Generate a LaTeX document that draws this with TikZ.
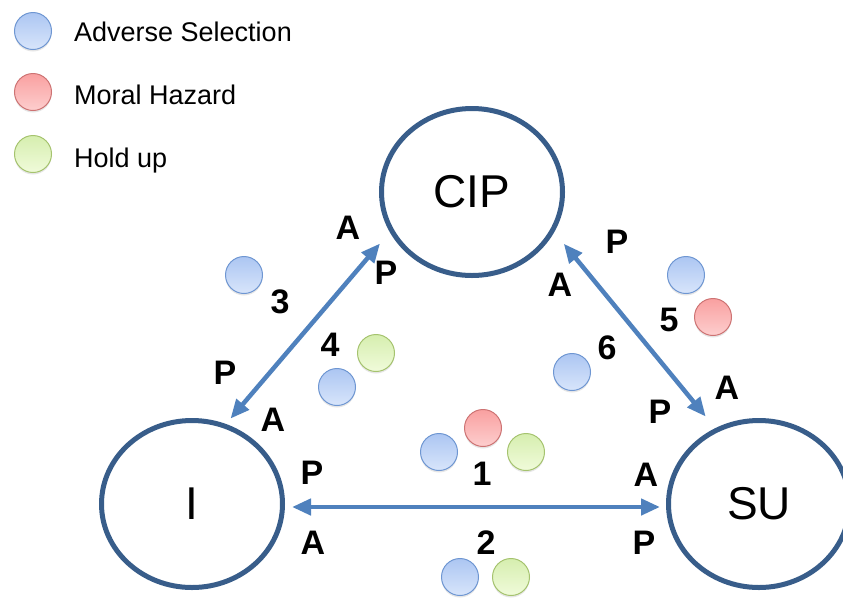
\documentclass[tikz,border=0pt]{standalone}
\usepackage{fontspec}
\setmainfont{Liberation Sans}
\usetikzlibrary{arrows.meta,shapes.geometric,shadows}
\definecolor{ringblue}{RGB}{56,93,138}
\definecolor{arrowblue}{RGB}{79,129,189}
\definecolor{advline}{RGB}{110,150,210}
\definecolor{advtop}{RGB}{172,198,242}
\definecolor{advbot}{RGB}{216,229,251}
\definecolor{morline}{RGB}{205,115,115}
\definecolor{mortop}{RGB}{249,160,160}
\definecolor{morbot}{RGB}{253,206,206}
\definecolor{holline}{RGB}{165,195,110}
\definecolor{holtop}{RGB}{214,238,175}
\definecolor{holbot}{RGB}{240,251,218}
\begin{document}
\begin{tikzpicture}[x=1pt,y=-1pt,
				party/.style={ellipse,draw=ringblue,line width=5pt,minimum width=181pt,minimum height=167pt,inner sep=0pt,font=\fontsize{46}{50}\selectfont},
				link/.style={arrowblue,line width=4.5pt,{Triangle[length=19pt,width=16pt]}-{Triangle[length=19pt,width=16pt]}},
				role/.style={inner sep=0pt,font=\bfseries\fontsize{34}{38}\selectfont},
				dot/.style={circle,minimum size=37pt,inner sep=0pt,line width=1pt,drop shadow={shadow xshift=0pt,shadow yshift=-2pt,opacity=0.2}},
				adv/.style={dot,draw=advline,top color=advtop,bottom color=advbot},
				moral/.style={dot,draw=morline,top color=mortop,bottom color=morbot},
				hold/.style={dot,draw=holline,top color=holtop,bottom color=holbot},
				key/.style={anchor=base west,inner sep=0pt,font=\fontsize{27}{30}\selectfont}]
\useasboundingbox (0,0) rectangle (843,598);
\node[adv] (keyadv) at (33,31) {};
\node[moral] (keymor) at (33,92) {};
\node[hold] (keyhol) at (33,154) {};
\node[key] at (74,41) {Adverse Selection};
\node[key] at (74,104) {Moral Hazard};
\node[key] at (74,167) {Hold up};

\node[party] (CIP) at (472,192) {CIP};
\node[party] (I) at (192,504) {I};
\node[party] (SU) at (759,504) {SU};

\draw[link,shorten <=7pt,shorten >=15pt] (I.67) -- (CIP.206);
\draw[link,shorten <=15pt,shorten >=15pt] (CIP.334) -- (SU.120);
\draw[link,shorten <=7pt,shorten >=6pt] ([yshift=-3pt]I.east) -- ([yshift=-3pt]SU.west);

\node[role] (aci) at (348,228) {A};
\node[role] (pci) at (386,273) {P};
\node[role] (pic) at (225,373) {P};
\node[role] (aic) at (273,420) {A};
\node[role] (pcs) at (617,242) {P};
\node[role] (acs) at (560,285) {A};
\node[role] (asc) at (727,388) {A};
\node[role] (psc) at (660,412) {P};
\node[role] (pis) at (312,473) {P};
\node[role] (ais) at (313,543) {A};
\node[role] (asi) at (646,475) {A};
\node[role] (psi) at (644,543) {P};

\node[role] (one) at (482,474) {1};
\node[role] (two) at (486,543) {2};
\node[role] (three) at (280,302) {3};
\node[role] (four) at (330,345) {4};
\node[role] (five) at (669,320) {5};
\node[role] (six) at (607,348) {6};

\node[adv] (a1) at (439,452) {};
\node[moral] (m1) at (483,428) {};
\node[hold] (h1) at (526,452) {};
\node[adv] (a2) at (460,577) {};
\node[hold] (h2) at (511,577) {};
\node[adv] (a3) at (244,275) {};
\node[hold] (h4) at (376,353) {};
\node[adv] (a4) at (337,387) {};
\node[adv] (a5) at (686,275) {};
\node[moral] (m5) at (713,317) {};
\node[adv] (a6) at (572,372) {};
\end{tikzpicture}
\end{document}
